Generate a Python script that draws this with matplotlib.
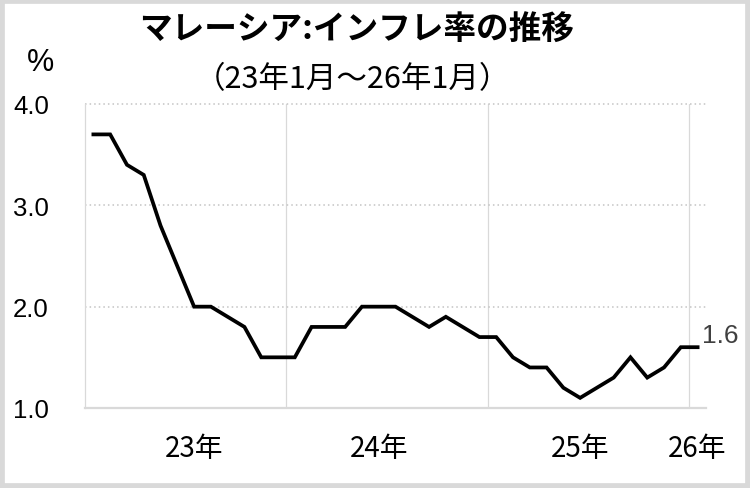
import matplotlib
matplotlib.use('Agg')
import matplotlib.pyplot as plt
from matplotlib.patches import Rectangle

# monthly inflation, Jan 2023 - Jan 2026 (%)
months = ['23-01', '23-02', '23-03', '23-04', '23-05', '23-06', '23-07', '23-08', '23-09', '23-10', '23-11', '23-12',
          '24-01', '24-02', '24-03', '24-04', '24-05', '24-06', '24-07', '24-08', '24-09', '24-10', '24-11', '24-12',
          '25-01', '25-02', '25-03', '25-04', '25-05', '25-06', '25-07', '25-08', '25-09', '25-10', '25-11', '25-12',
          '26-01']
inflation = [3.7, 3.7, 3.4, 3.3, 2.8, 2.4, 2.0, 2.0, 1.9, 1.8, 1.5, 1.5,
             1.5, 1.8, 1.8, 1.8, 2.0, 2.0, 2.0, 1.9, 1.8, 1.9, 1.8, 1.7,
             1.7, 1.5, 1.4, 1.4, 1.2, 1.1, 1.2, 1.3, 1.5, 1.3, 1.4, 1.6,
             1.6]
year_labels = ['23年', '24年', '25年', '26年']
year_label_pos = ['23-07', '24-06', '25-06', '26-01']
y_ticks = [1.0, 2.0, 3.0, 4.0]

plt.rcParams['font.family'] = ['Liberation Sans', 'Noto Sans CJK JP', 'DejaVu Sans']
jp = ['Noto Sans CJK JP', 'DejaVu Sans']

fig = plt.figure(figsize=(7.5, 4.89), dpi=100)
ax = fig.add_axes([85 / 750, 80 / 489, 621 / 750, 304 / 489])

x = list(range(len(months)))
ax.plot(x, inflation, color='black', linewidth=2.7, solid_joinstyle='miter')

ax.set_xlim(-0.5, len(months) - 0.5)
ax.set_ylim(1.0, 4.0)

# year boundaries
for i, m in enumerate(months):
    if m.endswith('-01') and i > 0:
        ax.axvline(i - 0.5, color='#d9d9d9', linewidth=0.9, zorder=0)
for v in y_ticks[1:]:
    ax.axhline(v, color='#c4c4c4', linewidth=1.1, linestyle=(0, (1, 2)),
               zorder=0, clip_on=False)

ax.set_yticks(y_ticks)
ax.set_yticklabels([f'{v:.1f}' for v in y_ticks], fontsize=18.5)
ax.set_xticks([months.index(m) for m in year_label_pos])
ax.set_xticklabels(year_labels, fontsize=20, family=jp)
ax.tick_params(axis='y', length=0, pad=26)
ax.tick_params(axis='x', length=0, pad=18)

for s in ['top', 'right']:
    ax.spines[s].set_visible(False)
ax.spines['left'].set_color('#d9d9d9')
ax.spines['left'].set_linewidth(0.9)
ax.spines['bottom'].set_color('#d9d9d9')
ax.spines['bottom'].set_linewidth(1.6)

ax.annotate(f'{inflation[-1]:.1f}', xy=(len(months) - 1, inflation[-1]),
            xytext=(3, 9), textcoords='offset points',
            fontsize=19, color='#404040', ha='left', va='center',
            annotation_clip=False)

fig.text(357 / 750, 1 - 30 / 489, 'マレーシア:インフレ率の推移', family=jp,
         fontsize=23.5, fontweight='bold', ha='center', va='center')
fig.text(352 / 750, 1 - 80 / 489, '（23年1月～26年1月）', family=jp,
         fontsize=22, ha='center', va='center')
fig.text(40 / 750, 1 - 63 / 489, '%', fontsize=22, ha='center', va='center')

fig.add_artist(Rectangle((0, 0), 1, 1, transform=fig.transFigure, fill=False,
                         edgecolor='#d9d9d9', linewidth=7))

fig.savefig('out.png', dpi=100)
plt.close()
